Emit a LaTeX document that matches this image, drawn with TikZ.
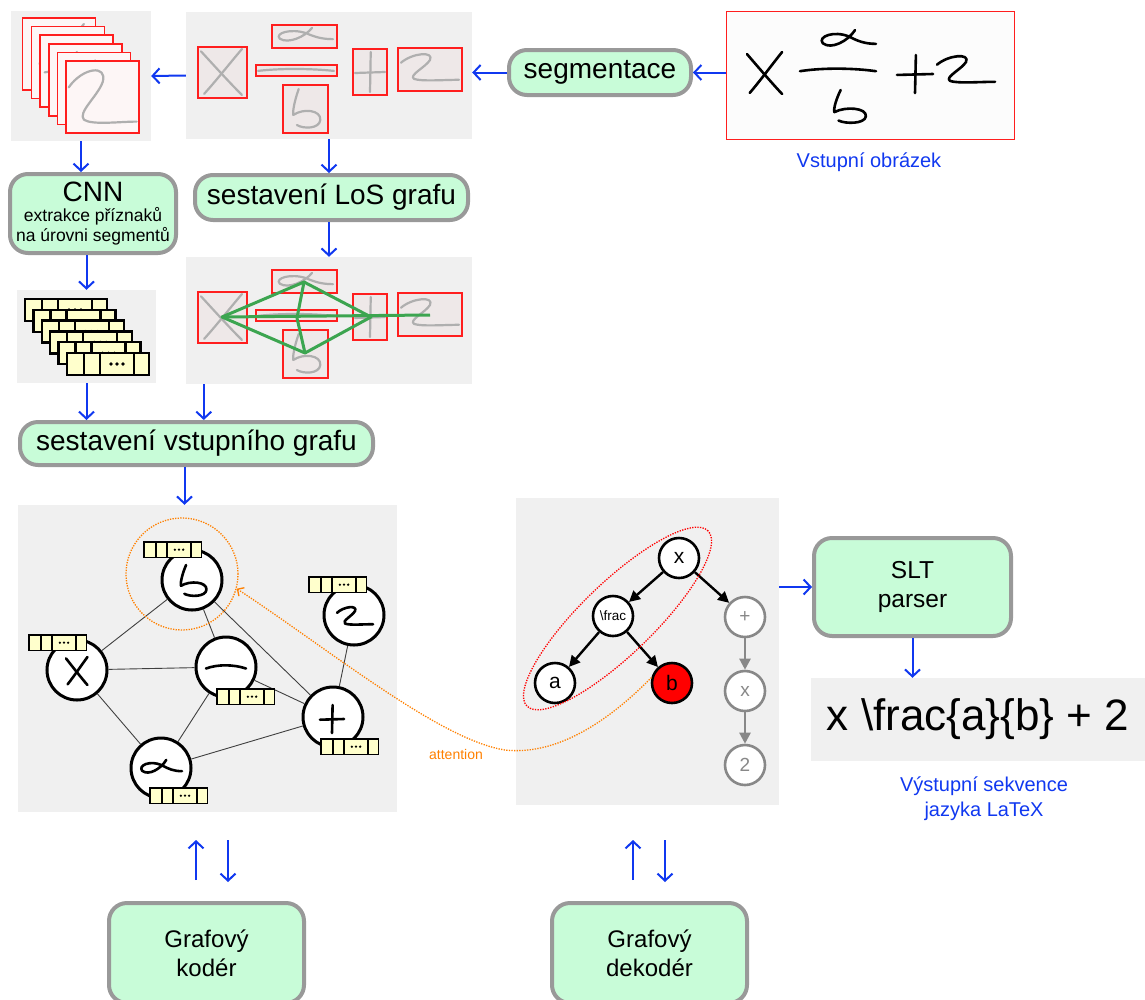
\documentclass[tikz,border=0pt]{standalone}
\usepackage{fontspec}
\setmainfont{Liberation Sans}
\usetikzlibrary{arrows.meta}
\definecolor{boxgreen}{RGB}{200,252,216}
\definecolor{boxgray}{RGB}{153,153,153}
\definecolor{panelgray}{RGB}{240,240,240}
\definecolor{flowblue}{RGB}{16,56,240}
\definecolor{segred}{RGB}{255,30,30}
\definecolor{segfill}{RGB}{238,232,232}
\definecolor{cropfill}{RGB}{253,246,246}
\definecolor{inkgray}{RGB}{175,175,175}
\definecolor{losgreen}{RGB}{60,165,80}
\definecolor{vecyellow}{RGB}{255,255,204}
\definecolor{attorange}{RGB}{255,128,0}
\definecolor{treegray}{RGB}{136,136,136}

\tikzset{
  procbox/.style={draw=boxgray,line width=4pt,fill=boxgreen,rounded corners=18pt,align=center,inner sep=0pt},
  panel/.style={fill=panelgray,inner sep=0pt},
  flow/.style={flowblue,line width=2pt,-{Straight Barb[length=7pt,width=15pt]}},
  bluetext/.style={text=flowblue,align=center,font=\fontsize{20}{25}\selectfont},
  segbox/.style={draw=segred,line width=1.5pt,fill=segfill},
  cropbox/.style={draw=segred,line width=1.5pt,fill=cropfill},
  pencil/.style={inkgray,line width=2.2pt,line cap=round,line join=round},
  ink/.style={black,line width=2.6pt,line cap=round,line join=round},
  losedge/.style={losgreen,line width=3pt,line join=round},
  encnode/.style={circle,draw,fill=white,line width=3pt,minimum size=60pt,inner sep=0pt},
  encedge/.style={black!75,line width=0.9pt},
  decnode/.style={circle,draw,fill=white,line width=2.6pt,minimum size=40pt,inner sep=0pt,font=\fontsize{21}{21}\selectfont},
  futnode/.style={decnode,draw=treegray,text=treegray,font=\fontsize{19}{19}\selectfont},
  tree/.style={line width=2.4pt,-{Triangle[length=11pt,width=11pt]}},
  attcirc/.style={circle,draw=attorange,line width=1.3pt,dash pattern=on 1.3pt off 1.3pt,minimum size=112pt,inner sep=0pt},
  attn/.style={attorange,line width=1.3pt,dash pattern=on 1.3pt off 1.3pt,-{Straight Barb[length=5pt,width=10pt]}},
  featvec/.pic={
    \draw[fill=vecyellow] (0,0) rectangle (82,22);
    \draw (17,0) -- (17,22) (33,0) -- (33,22) (67,0) -- (67,22);
    \fill (44,11) circle[radius=1.8] (50,11) circle[radius=1.8] (56,11) circle[radius=1.8];
  },
  gX/.pic={
    \draw (-1,-0.9) .. controls (-0.4,-0.3) and (0.4,0.5) .. (0.95,1);
    \draw (0.95,-1) .. controls (0.3,-0.3) and (-0.3,0.4) .. (-0.85,0.95);
  },
  galpha/.pic={
    \draw (0.25,-0.9) .. controls (0,0.1) and (-0.6,0.9) .. (-0.9,0.3) .. controls (-1.1,-0.3) and (-0.5,-0.9) .. (0.05,-0.3) .. controls (0.35,0.1) and (0.6,0.35) .. (1,0.35);
  },
  gbar/.pic={
    \draw (-1,0.3) .. controls (-0.4,-0.6) and (0.4,-0.5) .. (1,0.3);
  },
  gfive/.pic={
    \draw (-0.35,-1) .. controls (-0.55,-0.5) and (-0.7,0.1) .. (-0.65,0.3) .. controls (-0.1,-0.05) and (0.9,0.05) .. (0.85,0.55) .. controls (0.8,1) and (-0.1,1) .. (-0.45,0.8);
  },
  gplus/.pic={
    \draw (-1,0.05) -- (1,0);
    \draw (0.05,-1) -- (0,1);
  },
  gtwo/.pic={
    \draw (-1,-0.35) .. controls (-0.6,-0.9) and (0.15,-1) .. (0,-0.5) .. controls (-0.15,-0.1) and (-0.75,0.35) .. (-0.55,0.55) .. controls (-0.3,0.7) and (0.5,0.6) .. (1,0.6);
  }
}

\newcommand\segpieces{%
  \draw[segbox] (198,47) rectangle (247,98);
  \draw[segbox] (272,25) rectangle (337,48);
  \draw[segbox] (256,65) rectangle (337,76);
  \draw[segbox] (283,85) rectangle (328,133);
  \draw[segbox] (353,49) rectangle (387,95);
  \draw[segbox] (398,48) rectangle (462,91);
  \pic[pencil,xscale=21,yscale=23] at (222,72) {gX};
  \pic[pencil,xscale=28,yscale=9] at (305,36) {galpha};
  \pic[pencil,xscale=38,yscale=3] at (296,70) {gbar};
  \pic[pencil,xscale=18,yscale=20] at (305,109) {gfive};
  \pic[pencil,xscale=15,yscale=20] at (370,72) {gplus};
  \pic[pencil,xscale=29,yscale=18] at (430,69) {gtwo};
}

\begin{document}
\begin{tikzpicture}[x=1pt,y=-1pt]
\useasboundingbox (0,0) rectangle (1145,999);

\node[panel,minimum width=140pt,minimum height=130pt] (crops) at (81,76) {};
\node[panel,minimum width=286pt,minimum height=127pt] (segs) at (329,75.5) {};
\node[panel,minimum width=139pt,minimum height=93pt] (feats) at (86.5,336.5) {};
\node[panel,minimum width=286pt,minimum height=127pt] (los) at (329,320.5) {};
\node[panel,minimum width=379pt,minimum height=307pt] (enc) at (207.5,658.5) {};
\node[panel,minimum width=263pt,minimum height=307pt] (dec) at (647.5,651.5) {};
\node[panel,minimum width=334pt,minimum height=83pt,font=\fontsize{44}{50}\selectfont] (seq) at (978,719.5) {x \textbackslash frac\{a\}\{b\} + 2};

\node[draw=segred,line width=1.5pt,fill=black!1,minimum width=288pt,minimum height=128pt,inner sep=0pt] (img) at (870.5,75.5) {};
\pic[ink,xscale=18,yscale=21] at (765,73) {gX};
\pic[ink,xscale=28,yscale=11] at (848,40) {galpha};
\pic[ink,xscale=38,yscale=4] at (838,70) {gbar};
\pic[ink,xscale=21,yscale=17] at (848,107) {gfive};
\pic[ink,xscale=18,yscale=19] at (915,74) {gplus};
\pic[ink,xscale=29,yscale=18] at (966,71) {gtwo};
\node[bluetext] (imglbl) at (869,162) {Vstupní obrázek};

\node[procbox,minimum width=182pt,minimum height=45pt,font=\fontsize{28}{32}\selectfont] (segb) at (600,72.5) {segmentace};
\node[procbox,minimum width=166pt,minimum height=79pt,font=\fontsize{17.5}{20}\selectfont] (cnn) at (93,213.5) {{\fontsize{28}{28}\selectfont CNN}\\extrakce příznaků\\na úrovni segmentů};
\node[procbox,minimum width=273pt,minimum height=45pt,font=\fontsize{28}{32}\selectfont] (losb) at (331.5,197.5) {sestavení LoS grafu};
\node[procbox,minimum width=353pt,minimum height=43pt,font=\fontsize{28}{32}\selectfont] (inb) at (196.5,443.5) {sestavení vstupního grafu};
\node[procbox,minimum width=197pt,minimum height=98pt,font=\fontsize{24.5}{29}\selectfont] (slt) at (912.5,587) {SLT\\parser};
\node[procbox,minimum width=195pt,minimum height=100pt,font=\fontsize{24}{29}\selectfont] (kod) at (206.5,953) {Grafový\\kodér};
\node[procbox,minimum width=195pt,minimum height=100pt,font=\fontsize{24}{29}\selectfont] (dekod) at (649.5,953) {Grafový\\dekodér};

\draw[cropbox] (22.7,18) rectangle ++(73,72);
\pic[pencil,xscale=26,yscale=30] at (59.2,54) {gX};
\draw[cropbox] (31.4,26.6) rectangle ++(73,72);
\pic[pencil,xscale=30,yscale=14] at (67.9,62.6) {galpha};
\draw[cropbox] (40.1,35.2) rectangle ++(73,72);
\pic[pencil,xscale=32,yscale=4] at (76.6,71.2) {gbar};
\draw[cropbox] (48.8,43.8) rectangle ++(73,72);
\pic[pencil,xscale=24,yscale=28] at (85.3,79.8) {gfive};
\draw[cropbox] (57.5,52.4) rectangle ++(73,72);
\pic[pencil,xscale=22,yscale=28] at (94,88.4) {gplus};
\draw[cropbox] (66.2,61) rectangle ++(73,72);
\pic[pencil,xscale=34,yscale=36] at (102.7,100) {gtwo};

\segpieces
\begin{scope}[shift={(0,245)}]
\segpieces
\coordinate (gX) at (222,72);
\coordinate (gA) at (304,37);
\coordinate (gB) at (297,73);
\coordinate (gF) at (305,108);
\coordinate (gP) at (371,72);
\coordinate (gT) at (430,70);
\draw[losedge] (gX) -- (gA) -- (gP) -- (gF) -- cycle;
\draw[losedge] (gA) -- (gB) -- (gF);
\draw[losedge] (gX) -- (gT);
\end{scope}

\foreach \i in {0,...,5}
  \pic[line width=2.4pt] at ({25+8.4*\i},{299+10.8*\i}) {featvec};

\node[encnode] (e5) at (192,580) {};
\node[encnode] (e2) at (354,615) {};
\node[encnode] (eX) at (77,670) {};
\node[encnode] (eB) at (226,667) {};
\node[encnode] (eP) at (333,717) {};
\node[encnode] (eA) at (161,768) {};
\pic[ink,xscale=17,yscale=16] at (192,581) {gfive};
\pic[ink,xscale=18,yscale=12] at (355,617) {gtwo};
\pic[ink,xscale=11,yscale=14] at (77,671) {gX};
\pic[ink,xscale=20,yscale=5] at (226,667) {gbar};
\pic[ink,xscale=12,yscale=14] at (332,719) {gplus};
\pic[ink,xscale=21,yscale=9] at (161,768) {galpha};
\draw[encedge] (e5) -- (eX);
\draw[encedge] (e5) -- (eB);
\draw[encedge] (e5) -- (eP);
\draw[encedge] (eX) -- (eB);
\draw[encedge] (eX) -- (eA);
\draw[encedge] (eB) -- (eA);
\draw[encedge] (eB) -- (eP);
\draw[encedge] (e2) -- (eP);
\draw[encedge] (eA) -- (eP);
\pic[scale=0.7,line width=1.8pt] at (144,542) {featvec};
\pic[scale=0.7,line width=1.8pt] at (309,577) {featvec};
\pic[scale=0.7,line width=1.8pt] at (29,635) {featvec};
\pic[scale=0.7,line width=1.8pt] at (217,689) {featvec};
\pic[scale=0.7,line width=1.8pt] at (321,739) {featvec};
\pic[scale=0.7,line width=1.8pt] at (150,788) {featvec};
\node[attcirc] (attc) at (182,574) {};

\node[decnode] (dx) at (679,558) {x};
\node[decnode,font=\fontsize{13.5}{13.5}\selectfont] (dfrac) at (613,616) {\textbackslash frac};
\node[decnode] (da) at (555,683) {a};
\node[decnode,fill=red] (db) at (672,683) {b};
\node[futnode] (dplus) at (745,617) {+};
\node[futnode] (dx2) at (745,691) {x};
\node[futnode] (dtwo) at (745,765) {2};
\draw[tree] (dx) -- (dfrac);
\draw[tree] (dx) -- (dplus);
\draw[tree] (dfrac) -- (da);
\draw[tree] (dfrac) -- (db);
\draw[tree,treegray] (dplus) -- (dx2);
\draw[tree,treegray] (dx2) -- (dtwo);
\draw[red,line width=1.3pt,dash pattern=on 1.3pt off 1.3pt,rotate around={44:(617.5,618.5)}] (617.5,618.5) ellipse [x radius=126pt,y radius=36pt];

\draw[attn] (db.165) .. controls (600,730) and (550,755) .. (505,750) .. controls (440,740) and (330,650) .. (attc.-15);
\node[text=attorange,font=\fontsize{14}{14}\selectfont] (attlbl) at (456,754) {attention};

\node[bluetext] (seqlbl) at (984,799) {Výstupní sekvence\\jazyka LaTeX};

\draw[flow] (img.west |- segb.east) -- (segb.east);
\draw[flow] (segb.west) -- (segb.west -| segs.east);
\draw[flow] (segs.west) -- (crops.east);
\draw[flow] (crops.south) -- (crops.south |- cnn.north);
\draw[flow] (segs.south) -- (segs.south |- losb.north);
\draw[flow] (los.north |- losb.south) -- (los.north);
\draw[flow] (feats.north |- cnn.south) -- (feats.north);
\draw[flow] (feats.south) -- (feats.south |- inb.north);
\coordinate (losout) at ([xshift=18pt]los.south west);
\draw[flow] (losout) -- (losout |- inb.north);
\coordinate (encin) at ([xshift=-12pt]inb.south);
\draw[flow] (encin) -- (encin |- enc.north);
\draw[flow] (dec.east |- slt.west) -- (slt.west);
\draw[flow] (slt.south) -- (slt.south |- seq.north);

\coordinate (kodA) at (196,880);
\coordinate (kodB) at (196,840);
\coordinate (kodC) at (228,840);
\coordinate (kodD) at (228,882);
\draw[flow] (kodA) -- (kodB);
\draw[flow] (kodC) -- (kodD);
\coordinate (dekA) at (633,880);
\coordinate (dekB) at (633,840);
\coordinate (dekC) at (665,840);
\coordinate (dekD) at (665,882);
\draw[flow] (dekA) -- (dekB);
\draw[flow] (dekC) -- (dekD);
\end{tikzpicture}
\end{document}
